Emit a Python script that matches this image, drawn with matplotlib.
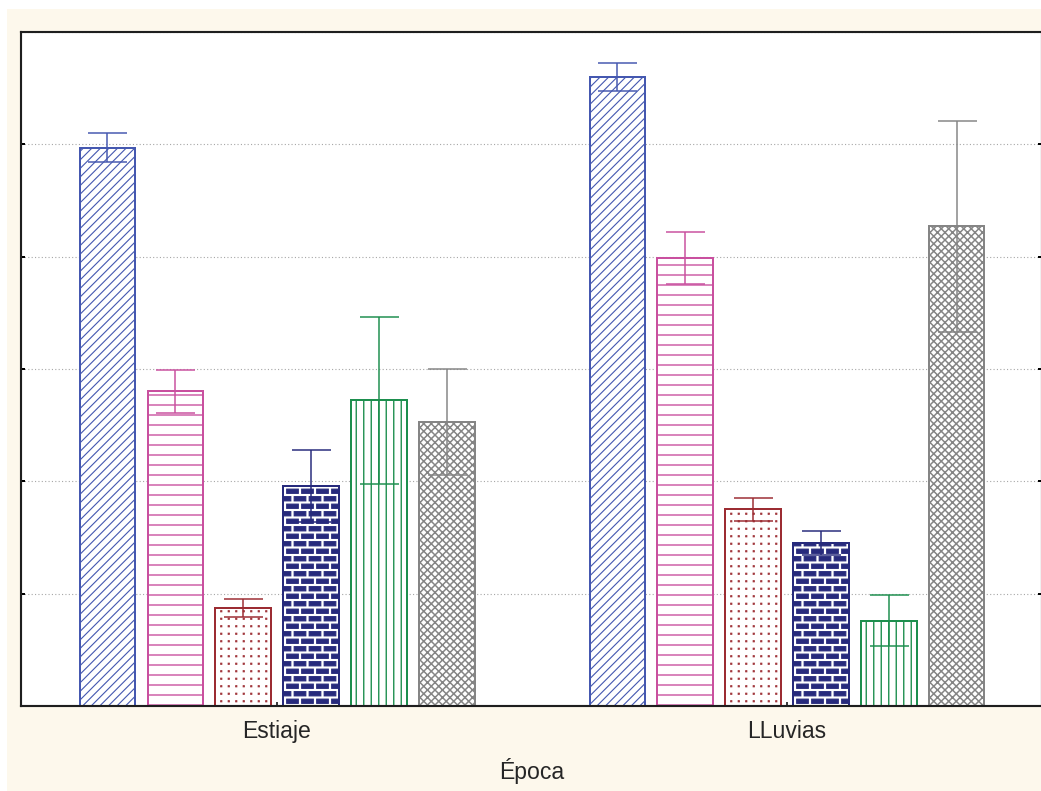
import numpy as np
import matplotlib
matplotlib.use("Agg")
import matplotlib.pyplot as plt
import matplotlib.hatch as mhatch
from matplotlib.path import Path
from matplotlib.patches import Rectangle

# ---------------------------------------------------------------- data
epocas = ["Estiaje", "LLuvias"]
media_estiaje = [4.97, 2.80, 0.87, 1.96, 2.72, 2.53]
error_estiaje = [0.13, 0.19, 0.08, 0.32, 0.74, 0.47]
media_lluvias = [5.60, 3.99, 1.75, 1.45, 0.76, 4.27]
error_lluvias = [0.125, 0.23, 0.10, 0.11, 0.23, 0.94]
y_ticks = [0, 1, 2, 3, 4, 5, 6]

# ---------------------------------------------------------------- styles
colores = ["#4558b0", "#c9509f", "#9c2c32", "#272a7c", "#1d8f4e", "#858585"]
tramas = ["///////", "---", "..", "*", "||||", "xxxxxxxx"]
grosor_trama = [0.45, 0.55, 0.5, 0.45, 0.55, 0.6]

DPI = 180


# -------------------------------------------------- custom hatch tiles
class _RectTiles(mhatch.HatchPatternBase):
    """Hatch made of small filled rectangles inside the unit tile."""
    char = None

    def __init__(self, hatch, density):
        self.rects = self.build() if hatch.count(self.char) else []
        self.num_vertices = 5 * len(self.rects)

    def set_vertices_and_codes(self, vertices, codes):
        for i, (x0, y0, x1, y1) in enumerate(self.rects):
            vertices[5 * i:5 * i + 5] = [(x0, y0), (x1, y0), (x1, y1),
                                         (x0, y1), (x0, y0)]
            codes[5 * i] = Path.MOVETO
            codes[5 * i + 1:5 * i + 4] = Path.LINETO
            codes[5 * i + 4] = Path.CLOSEPOLY


class BrickHatch(_RectTiles):
    char = "*"

    def build(self):
        rows, cols = 24, 12
        bw, bh = 11.6 / DPI, 4.2 / DPI
        pw, ph = 1.0 / cols, 1.0 / rows
        gx, gy = (pw - bw) / 2, (ph - bh) / 2
        rects = []
        for r in range(rows):
            y0, y1 = r * ph + gy, (r + 1) * ph - gy
            shift = 0.5 * pw if r % 2 else 0.0
            for c in range(cols):
                x0 = c * pw + shift + gx
                x1 = (c + 1) * pw + shift - gx
                if x1 <= 1.0:
                    rects.append((x0, y0, x1, y1))
                else:
                    rects.append((x0, y0, 1.0, y1))
                    rects.append((0.0, y0, x1 - 1.0, y1))
        return rects


class GridDots(_RectTiles):
    char = "."

    def build(self):
        n = 24
        s = 0.45 / DPI
        p = 1.0 / n
        rects = []
        for r in range(n):
            for c in range(n):
                cx, cy = (c + 0.5) * p, (r + 0.5) * p
                rects.append((cx - s, cy - s, cx + s, cy + s))
        return rects


mhatch._hatch_types = [t for t in mhatch._hatch_types
                       if t not in (mhatch.Stars, mhatch.SmallFilledCircles)]
mhatch._hatch_types += [BrickHatch, GridDots]

# ---------------------------------------------------------------- figure
plt.rcParams["font.family"] = ["Liberation Sans", "DejaVu Sans"]

W, H = 1041, 791
fig = plt.figure(figsize=(W / DPI, H / DPI), dpi=DPI, facecolor="white")
fig.patches.append(Rectangle((7 / W, 0), 1, (H - 9) / H,
                             transform=fig.transFigure, facecolor="#fdf8ec",
                             edgecolor="none", zorder=-10))

ax = fig.add_axes([21 / W, 85 / H, (1042 - 21) / W, 674 / H])
ax.set_facecolor("white")
ax.set_axisbelow(True)

x = np.arange(len(epocas))
paso = 0.1333
ancho = 0.108
n_series = len(colores)

for i in range(n_series):
    pos = x + (i - (n_series - 1) / 2) * paso
    vals = [media_estiaje[i], media_lluvias[i]]
    errs = [error_estiaje[i], error_lluvias[i]]
    with plt.rc_context({"hatch.linewidth": grosor_trama[i]}):
        barras = ax.bar(pos, vals, width=ancho, facecolor="white",
                        edgecolor=colores[i], hatch=tramas[i],
                        linewidth=0.8, zorder=2)
        for b in barras:
            if hasattr(b, "set_hatch_linewidth"):
                b.set_hatch_linewidth(grosor_trama[i])
    ax.errorbar(pos, vals, yerr=errs, fmt="none", ecolor=colores[i],
                elinewidth=0.6, capsize=7.8, capthick=0.6, zorder=3)

ax.set_xlim(-0.502, 1.5)
ax.set_ylim(0, 6)
ax.set_yticks(y_ticks)
ax.set_yticklabels([])
ax.yaxis.grid(True, linestyle=(0, (1, 2)), color="#a8a8a8", linewidth=0.45)

ax.set_xticks(x)
ax.set_xticklabels(epocas)
ax.tick_params(axis="x", direction="in", length=1.6, width=0.6,
               labelsize=9.2, labelcolor="#262626", pad=5.4, top=False)
ax.tick_params(axis="y", direction="in", length=1.6, width=0.8,
               left=True, right=True)
ax.set_xlabel("Época", fontsize=9.2, color="#262626", labelpad=6.2)

for s in ax.spines.values():
    s.set_linewidth(0.85)
    s.set_color("#1e1e1e")

fig.savefig("out.png", dpi=DPI, facecolor=fig.get_facecolor())
